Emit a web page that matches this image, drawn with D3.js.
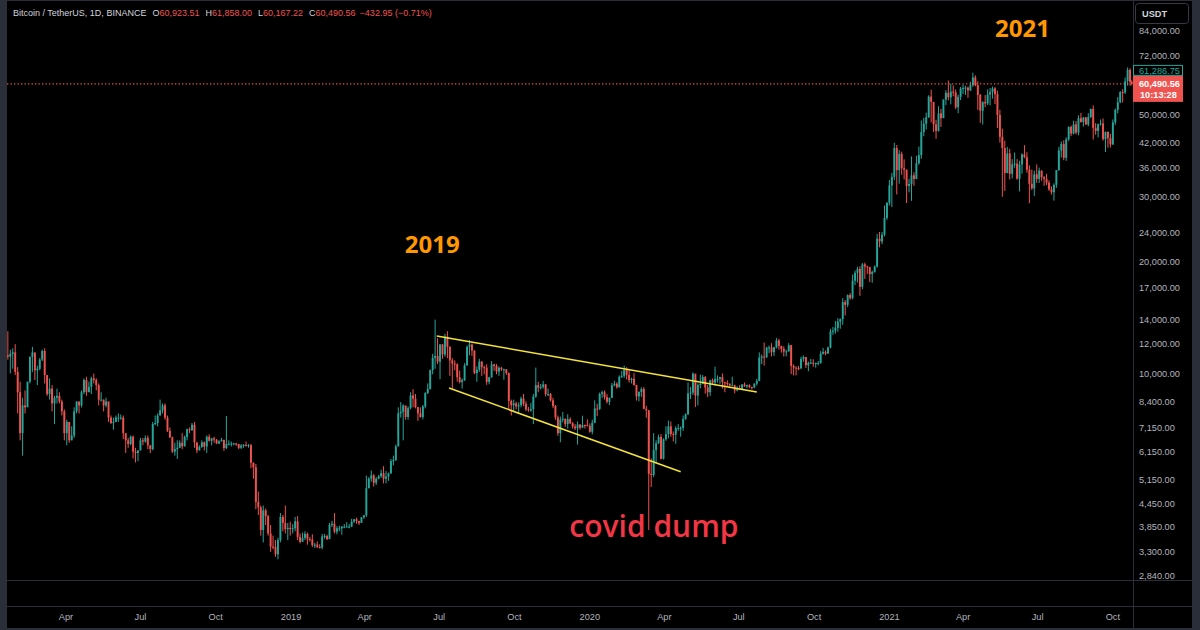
<!DOCTYPE html>
<html>
<head>
<meta charset="utf-8">
<title>Bitcoin / TetherUS 1D</title>
<script src="https://cdn.jsdelivr.net/npm/d3@7"></script>
<style>
  html, body { margin: 0; padding: 0; background: #000; }
  svg { display: block; }
  text { font-family: "Liberation Sans", Arial, sans-serif; }
</style>
</head>
<body>
<svg id="chart"></svg>
<script>
// BTC/USDT, grouped in 3-day candles from 2018-01-19, values in thousands of USDT: [high, low, close]
// open of each candle = close of the one before
const firstDate = '2018-01-19';
const lastDate = '2021-10-24';
const stepDays = 3;
const firstOpen = 11.2;

const bars2018 = [
  [13.0,10.9,11.1],[11.6,10.0,11.3],[11.7,10.3,11.4],[12.0,9.9,10.1],[10.4,7.8,8.9],[9.5,6.6,6.9],[8.6,6.0,8.2],[9.0,7.8,8.1],[9.5,8.3,9.5],[11.1,9.4,11.1],
  [11.8,10.1,11.4],[11.2,9.6,10.2],[10.5,9.3,10.3],[11.0,10.2,10.9],[11.6,10.8,11.5],[11.7,9.4,9.9],[9.9,8.7,8.8],[9.7,8.5,9.1],[9.3,7.9,8.3],[8.7,7.3,8.6],
  [9.1,8.3,8.7],[8.9,8.3,8.4],[8.5,7.7,7.9],[8.0,6.6,6.9],[7.5,6.4,7.4],[7.4,6.5,6.6],[7.2,6.6,6.8],[8.1,6.7,7.9],[8.4,7.8,8.4],[8.4,7.8,8.2],
  [9.0,8.1,8.9],[9.7,8.8,9.6],[9.8,8.7,8.9],[9.5,8.9,9.2],[9.8,8.8,9.7],[9.99,9.4,9.6],[9.7,9.0,9.3],[9.4,8.2,8.5],[8.9,8.4,8.5],[8.5,7.9,8.2],
  [8.6,8.1,8.4],[8.4,7.4,7.6],[7.7,7.3,7.35],[7.6,7.05,7.4],[7.7,7.4,7.6],[7.8,7.4,7.6],[7.75,7.5,7.6],[7.7,6.65,6.9],[6.9,6.1,6.6],[6.7,6.3,6.45],
  [6.8,6.4,6.75],[6.8,5.9,6.15],[6.3,5.75,6.1],[6.2,5.8,6.2],[6.7,6.2,6.6],[6.7,6.4,6.55],[6.8,6.5,6.7],[6.8,6.25,6.4],[6.4,6.1,6.25],[7.4,6.2,7.3],
  [7.7,7.25,7.35],[7.8,7.2,7.7],[8.5,7.7,7.95],[8.3,7.8,8.2],[8.3,7.5,7.6],[7.7,6.95,7.0],[7.15,6.7,6.72],[6.75,6.1,6.15],[6.5,6.0,6.25],[6.6,5.88,6.3],
  [6.6,6.3,6.5],[6.9,6.25,6.36],[6.8,6.35,6.74],[7.1,6.6,7.07],[7.15,6.9,7.03],[7.35,7.0,7.27],[7.4,6.3,6.52],[6.5,6.1,6.2],[6.4,6.2,6.33],[6.6,6.3,6.52],
  [6.55,6.2,6.35],[6.8,6.1,6.75],[6.85,6.55,6.58],[6.7,6.4,6.68],[6.75,6.5,6.63],[6.65,6.45,6.47],[6.6,6.45,6.56],[6.7,6.55,6.62],[6.62,6.18,6.29],[7.68,6.25,6.45],
  [6.6,6.4,6.46],[6.55,6.35,6.47],[6.5,6.4,6.47],[6.5,6.38,6.45],[6.45,6.25,6.3],[6.45,6.25,6.39],[6.45,6.3,6.41],[6.55,6.35,6.4],[6.45,6.3,6.4],[6.45,5.55,5.74],
  [5.75,5.2,5.58],[5.7,4.3,4.5],[4.8,4.15,4.35],[4.4,3.65,3.78],[4.4,3.5,4.27],[4.32,3.9,4.12],[4.15,3.65,3.7],[3.9,3.3,3.41],[3.65,3.35,3.4],[3.55,3.2,3.25],
  [3.6,3.15,3.55],[4.2,3.5,4.1],[4.15,3.75,3.95],[4.4,3.7,3.8],[3.95,3.55,3.83],[3.98,3.65,3.8]
];

const bars2019 = [
  [3.92,3.7,3.82],[4.1,3.75,3.99],[4.12,3.55,3.62],[3.7,3.48,3.51],[3.72,3.53,3.6],[3.75,3.55,3.69],[3.72,3.45,3.57],[3.62,3.52,3.56],[3.68,3.4,3.44],[3.49,3.38,3.45],
  [3.52,3.38,3.4],[3.46,3.37,3.39],[3.69,3.35,3.63],[3.69,3.58,3.64],[3.67,3.55,3.57],[3.95,3.58,3.9],[4.0,3.85,3.93],[4.2,3.7,3.74],[3.87,3.68,3.82],[3.88,3.75,3.82],
  [3.87,3.67,3.86],[3.92,3.82,3.86],[3.97,3.85,3.86],[3.92,3.82,3.86],[4.05,3.85,3.98],[4.05,3.95,4.04],[4.08,3.93,4.0],[4.0,3.9,3.95],[4.1,3.95,4.09],[4.15,4.05,4.14],
  [5.3,4.1,4.9],[5.25,4.9,5.2],[5.47,5.1,5.31],[5.35,4.95,5.07],[5.25,5.0,5.2],[5.32,5.18,5.28],[5.5,5.23,5.38],[5.62,5.05,5.2],[5.45,5.05,5.27],[5.4,5.13,5.37],
  [5.88,5.37,5.8],[6.0,5.65,5.84],[6.43,5.8,6.35],[8.1,6.8,7.81],[8.37,7.6,7.88],[8.26,6.6,8.2],[8.1,7.5,7.63],[8.15,7.5,8.06],[8.9,8.0,8.72],[9.07,8.1,8.55],
  [8.8,8.05,8.11],[8.12,7.45,7.81],[8.1,7.6,7.63],[8.22,7.52,8.15],[8.9,8.05,8.86],[9.4,8.8,9.08],[10.25,9.05,10.21],[11.3,9.95,11.02],[13.97,10.3,11.15],[12.45,10.6,10.76],
  [12.0,9.65,11.98],[12.0,10.95,11.25],[12.8,11.1,12.57],[13.0,11.0,11.8],[11.85,9.85,10.85],[11.0,9.1,10.63],[10.85,10.2,10.59],[10.65,9.5,9.77],[10.18,9.4,9.48],[9.7,9.1,9.59],
  [10.66,9.55,10.52],[11.9,10.5,11.8],[12.3,11.2,11.97],[12.05,11.15,11.53],[11.55,9.95,10.02],[10.45,9.5,10.23],[10.95,10.1,10.76],[10.8,9.85,10.4],[10.5,9.95,10.37],[10.6,9.32,9.49],
  [9.8,9.35,9.76],[10.8,9.75,10.58],[10.62,10.17,10.48],[10.6,9.95,10.12],[10.45,9.85,10.36],[10.42,10.15,10.26],[10.3,9.62,10.27],[10.2,9.9,10.03],[10.07,8.0,8.43],[8.5,7.7,8.21],
  [8.5,7.9,8.3],[8.39,8.0,8.15],[8.35,7.8,8.21],[8.66,8.1,8.56],[8.8,8.16,8.28],[8.41,7.92,8.0],[8.12,7.88,7.95],[8.33,7.88,8.02],[8.8,7.3,8.66],[10.37,8.6,9.3],
  [9.5,8.9,9.15],[9.37,9.05,9.2],[9.55,9.1,9.34],[9.37,8.67,8.8],[9.1,8.68,8.8],[8.86,8.4,8.46],[8.6,8.06,8.17],[8.22,7.5,7.61],[7.7,6.79,6.9],[7.65,6.52,7.51],
  [7.87,7.38,7.55],[7.55,7.18,7.3],[7.76,7.1,7.53],[7.62,7.3,7.34],[7.4,7.1,7.19],[7.3,7.03,7.11],[7.42,6.43,7.28],[7.3,7.05,7.14],[7.69,7.12,7.26],[7.28,7.1,7.25],
  [7.52,7.2,7.22],[7.33,6.92,6.96]
];

const bars2020 = [
  [7.5,6.85,7.36],[8.46,7.34,8.04],[8.28,7.67,8.02],[8.88,7.97,8.81],[8.99,8.6,8.9],[9.0,8.5,8.63],[8.79,8.3,8.39],[8.6,8.22,8.6],[9.43,8.58,9.29],[9.56,9.23,9.38],
  [9.47,9.1,9.18],[9.88,9.16,9.8],[10.16,9.73,9.85],[10.5,9.72,10.23],[10.4,9.63,9.92],[10.25,9.45,9.6],[9.75,9.4,9.67],[10.02,9.27,9.31],[9.32,8.45,8.67],[8.95,8.41,8.91],
  [9.17,8.65,9.08],[9.19,8.0,8.03],[8.18,7.59,7.95],[7.97,3.78,5.36],[5.9,4.94,5.32],[6.9,5.25,6.21],[6.6,5.73,6.48],[6.84,6.45,6.74],[6.86,5.86,5.88],[6.68,5.86,6.64],
  [7.2,6.58,6.86],[7.46,6.68,7.2],[7.42,6.75,6.86],[6.97,6.55,6.84],[7.2,6.46,7.12],[7.3,7.0,7.12],[7.2,6.75,7.13],[7.7,7.0,7.54],[7.8,7.5,7.76],[9.46,7.73,8.83],
  [9.19,8.53,8.88],[10.07,8.75,9.99],[9.91,8.12,8.72],[9.4,8.2,9.31],[9.93,9.12,9.38],[9.9,9.35,9.78],[9.84,8.82,9.17],[9.31,8.63,8.9],[9.62,8.7,9.58],[9.7,9.33,9.45],
  [10.43,9.27,9.67],[9.88,9.45,9.67],[9.8,9.38,9.77],[10.0,9.1,9.47],[9.5,8.9,9.43],[9.58,9.25,9.38],[9.4,9.2,9.29],[9.8,9.25,9.29],[9.33,8.84,9.0],[9.24,8.95,9.14],
  [9.3,9.04,9.06],[9.36,9.05,9.34],[9.45,9.2,9.23],[9.33,9.13,9.3],[9.35,9.13,9.19],[9.22,9.05,9.17],[9.4,9.12,9.39],[9.68,9.28,9.55],[11.4,9.53,11.03],[11.25,10.6,11.11],
  [12.12,10.5,11.07],[11.8,11.0,11.75],[11.9,11.35,11.76],[12.07,11.12,11.41],[11.8,11.15,11.77],[12.47,11.68,12.28],[12.4,11.6,11.87],[11.88,11.38,11.65],[11.83,11.11,11.46],[11.59,11.12,11.47],
  [12.07,11.45,11.92],[11.95,9.96,10.47],[10.58,9.88,10.37],[10.45,9.88,10.34],[10.48,10.2,10.33],[11.1,10.27,10.95],[11.18,10.76,11.08],[11.05,10.35,10.53],[10.76,10.14,10.69],[10.95,10.63,10.69],
  [10.92,10.43,10.62],[10.7,10.37,10.67],[10.8,10.52,10.67],[11.49,10.63,11.3],[11.72,11.25,11.43],[11.55,11.2,11.32],[11.82,11.3,11.75],[13.2,11.69,12.99],[13.35,12.72,13.04],[13.86,12.8,13.28],
  [14.1,12.97,13.8],[14.07,13.2,14.02],[15.97,13.53,15.58],[15.78,14.34,15.33],[16.34,15.1,16.28],[16.48,15.8,15.97],[18.48,15.86,17.8],[18.96,17.33,18.7],[19.42,17.6,19.16],[19.48,16.2,17.14],
  [19.86,16.88,19.7],[19.92,18.0,19.45],[19.53,18.57,19.36],[19.42,17.65,18.55],[18.94,17.57,18.8],[19.57,18.71,19.44],[23.8,19.3,23.11],[24.1,21.9,22.72],[24.1,22.35,23.71],[28.42,23.45,26.28],
  [29.0,25.98,28.89],[33.3,28.4,32.18]
];

const bars2021 = [
  [34.78,28.13,33.95],[41.95,33.3,40.6],[41.38,30.42,35.4],[40.1,32.53,39.16],[39.7,34.4,35.82],[37.85,33.4,35.47],[35.55,28.85,32.08],[33.5,30.83,32.47],[38.53,29.24,34.25],[34.93,32.1,33.51],
  [38.7,33.42,36.94],[40.96,36.6,38.87],[48.2,37.98,44.83],[48.98,43.7,47.23],[50.6,45.57,49.15],[56.37,48.95,55.89],[58.35,47.6,54.09],[52.05,44.9,47.02],[48.4,43.0,45.16],[52.64,45.0,50.35],
  [51.77,46.3,48.87],[54.9,48.93,54.88],[58.15,53.0,57.22],[61.8,54.6,55.63],[60.63,53.27,57.65],[59.93,56.0,57.35],[58.43,51.7,52.3],[56.57,50.43,55.82],[59.37,54.7,58.73],[60.2,56.8,58.99],
  [59.79,56.5,59.12],[59.47,55.47,58.08],[61.3,57.9,59.96],[64.85,59.37,62.96],[63.8,59.58,60.0],[61.5,51.5,56.47],[56.8,47.5,51.19],[54.3,47.0,54.03],[56.43,52.33,53.58],[58.46,53.06,56.63],
  [58.98,52.9,57.5],[59.5,55.2,58.84],[59.3,53.4,56.75],[58.0,46.0,49.88],[51.5,42.0,43.54],[45.8,30.0,40.6],[42.5,31.1,34.77],[40.9,34.68,39.26],[40.4,33.4,34.6],[37.9,33.6,36.69],
  [39.48,35.92,36.85],[37.9,33.33,33.55],[37.53,31.0,36.69],[39.3,34.6,39.02],[41.33,38.12,38.35],[39.56,34.82,35.48],[36.46,28.8,32.51],[35.5,31.3,31.59],[35.3,30.15,34.49],[36.67,32.7,33.51],
  [35.95,32.7,35.29],[35.3,33.1,33.86],[34.1,32.1,33.52],[34.6,32.25,32.73],[33.2,31.1,31.42],[32.0,30.4,30.84],[32.6,29.28,32.29],[35.4,31.7,35.4],[40.9,35.25,40.01],[42.3,38.3,41.62],
  [42.6,37.64,38.21],[43.4,37.5,42.84],[46.45,42.45,46.29],[46.7,43.77,44.43],[48.14,44.2,47.02],[48.05,44.2,44.71],[49.78,43.95,48.87],[50.5,47.6,47.7],[49.28,46.4,49.07],[49.3,46.9,46.99],
  [50.4,46.5,49.25],[51.9,48.9,51.76],[52.92,42.8,46.05],[47.4,44.1,45.15],[47.25,43.37,47.11],[48.48,46.7,47.3],[48.8,42.5,42.93],[45.0,39.6,44.89],[45.0,40.7,43.17],[44.35,40.75,41.52],
  [48.5,41.4,47.63],[51.89,46.9,51.47],[55.75,50.38,53.95],[57.84,53.65,57.49],[58.53,53.88,57.35],[62.93,56.85,61.53],[67.0,59.85,66.0],[66.64,59.7,61.29],[61.86,60.17,60.49]
];

// right price axis
const yTicks = [84000, 72000, 50000, 42000, 36000, 30000, 24000, 20000, 17000, 14000, 12000, 10000, 8400, 7150, 6150, 5150, 4450, 3850, 3300, 2840];

// time axis
const xTicks = ['2018-04-01','2018-07-01','2018-10-01','2019-01-01','2019-04-01','2019-07-01','2019-10-01','2020-01-01',
                '2020-04-01','2020-07-01','2020-10-01','2021-01-01','2021-04-01','2021-07-01','2021-10-01'];
const xTickLabels = ['Apr','Jul','Oct','2019','Apr','Jul','Oct','2020','Apr','Jul','Oct','2021','Apr','Jul','Oct'];

// header
const symbolTitle = 'Bitcoin / TetherUS, 1D, BINANCE';
const lastOHLC = { O: '60,923.51', H: '61,858.00', L: '60,167.22', C: '60,490.56' };
const lastChange = '\u2212432.95 (\u22120.71%)';
const lastPrice = 60490.56;
const prevPrice = 61286.75;
const countdown = '10:13:28';

// drawings: [date, price]
const wedgeLines = [
  [['2019-06-28', 12620], ['2020-07-23', 8910]],
  [['2019-07-13', 9135], ['2020-04-21', 5430]]
];
const notes = [
  { kind: 'year', text: '2019', at: ['2019-05-20', 21140] },
  { kind: 'year', text: '2021', at: ['2021-05-10', 80940] },
  { kind: 'event', text: 'covid dump', at: ['2019-12-07', 3618] }
];

const W = 1200, H = 630;
const pane = { left: 7, right: 1133, top: 1, bottom: 580 };
const upColor = '#26a69a', downColor = '#ef5350';
const axisText = '#b2b5be', lineColor = '#2a2e39';

const parse = d3.utcParse('%Y-%m-%d');

const x = d3.scaleUtc()
  .domain([parse('2018-01-01'), parse('2021-01-01')])
  .range([-7.7, 889.4]);

const y = d3.scaleLog()
  .domain([2770, 101900])
  .range([pane.bottom, 0]);

// build candles
const allBars = bars2018.concat(bars2019, bars2020, bars2021);
const day0 = parse(firstDate), dayLast = parse(lastDate);
const candles = allBars.map((b, i) => {
  const start = d3.utcDay.offset(day0, i * stepDays);
  let mid = d3.utcDay.offset(start, 1);
  if (mid > dayLast) mid = dayLast;
  return {
    date: mid,
    open: (i === 0 ? firstOpen : allBars[i - 1][2]) * 1000,
    high: b[0] * 1000,
    low: b[1] * 1000,
    close: b[2] * 1000
  };
});

const svg = d3.select('#chart').attr('width', W).attr('height', H);

// frame
svg.append('rect').attr('width', W).attr('height', H).attr('fill', lineColor);
svg.append('rect').attr('x', 7).attr('y', 1).attr('width', 1185).attr('height', 627).attr('fill', '#000');

svg.append('clipPath').attr('id', 'pane-clip')
  .append('rect')
  .attr('x', pane.left).attr('y', pane.top)
  .attr('width', pane.right - pane.left).attr('height', pane.bottom - pane.top);

// pane separators
const seps = svg.append('g').attr('stroke', lineColor).attr('stroke-width', 1);
seps.append('line').attr('x1', 7).attr('x2', 1192).attr('y1', 580.5).attr('y2', 580.5);
seps.append('line').attr('x1', 7).attr('x2', 1192).attr('y1', 606.5).attr('y2', 606.5);
seps.append('line').attr('x1', 1133.5).attr('x2', 1133.5).attr('y1', 1).attr('y2', 628);

const plot = svg.append('g').attr('clip-path', 'url(#pane-clip)');

// candles
const step = x(d3.utcDay.offset(day0, stepDays)) - x(day0);
const bodyW = step * 0.78;

const candleG = plot.append('g')
  .selectAll('g')
  .data(candles)
  .join('g')
  .attr('fill', d => d.close >= d.open ? upColor : downColor)
  .attr('stroke', d => d.close >= d.open ? upColor : downColor);

candleG.append('line')
  .attr('x1', d => x(d.date)).attr('x2', d => x(d.date))
  .attr('y1', d => y(d.high)).attr('y2', d => y(d.low))
  .attr('stroke-width', 1);

candleG.append('rect')
  .attr('stroke', 'none')
  .attr('x', d => x(d.date) - bodyW / 2)
  .attr('width', bodyW)
  .attr('y', d => y(Math.max(d.open, d.close)))
  .attr('height', d => Math.max(1, Math.abs(y(d.open) - y(d.close))));

// last price line
plot.append('line')
  .attr('x1', pane.left).attr('x2', pane.right)
  .attr('y1', y(lastPrice)).attr('y2', y(lastPrice))
  .attr('stroke', '#ef5350').attr('stroke-width', 1.3)
  .attr('stroke-dasharray', '1.3,2.2');

// wedge drawings
plot.append('g')
  .selectAll('line')
  .data(wedgeLines)
  .join('line')
  .attr('x1', d => x(parse(d[0][0]))).attr('y1', d => y(d[0][1]))
  .attr('x2', d => x(parse(d[1][0]))).attr('y2', d => y(d[1][1]))
  .attr('stroke', '#f4e23b').attr('stroke-width', 1.5);

// text notes
const noteStyle = {
  year: { fill: '#ff9800', size: 24, weight: 700, family: '"Open Sans", sans-serif' },
  event: { fill: '#f23645', size: 30, weight: 600, family: '"Open Sans", sans-serif' }
};
svg.append('g')
  .selectAll('text')
  .data(notes)
  .join('text')
  .attr('x', d => x(parse(d.at[0])))
  .attr('y', d => y(d.at[1]))
  .attr('fill', d => noteStyle[d.kind].fill)
  .style('font-family', d => noteStyle[d.kind].family)
  .style('font-size', d => noteStyle[d.kind].size + 'px')
  .style('font-weight', d => noteStyle[d.kind].weight)
  .text(d => d.text);

// price axis labels
svg.append('g')
  .selectAll('text')
  .data(yTicks)
  .join('text')
  .attr('x', 1139)
  .attr('y', d => y(d))
  .attr('dy', '0.35em')
  .attr('fill', axisText)
  .style('font-size', '9.2px')
  .text(d => d3.format(',.2f')(d));

// time axis labels
svg.append('g')
  .selectAll('text')
  .data(xTicks)
  .join('text')
  .attr('x', d => x(parse(d)))
  .attr('y', 617)
  .attr('dy', '0.35em')
  .attr('text-anchor', 'middle')
  .attr('fill', axisText)
  .style('font-size', '9.2px')
  .text((d, i) => xTickLabels[i]);

// currency box
svg.append('rect')
  .attr('x', 1135.5).attr('y', 3.5).attr('width', 53).attr('height', 20).attr('rx', 3)
  .attr('fill', '#000').attr('stroke', '#363a45');
svg.append('text')
  .attr('x', 1142).attr('y', 13.5).attr('dy', '0.35em')
  .attr('fill', '#d1d4dc')
  .style('font-size', '9.2px').style('font-weight', 700)
  .text('USDT');

// last price label with countdown, previous price label on top of it
const lastY = y(lastPrice);
svg.append('rect')
  .attr('x', 1133).attr('y', lastY - 8).attr('width', 50).attr('height', 26)
  .attr('fill', '#ef5350');
svg.append('text')
  .attr('x', 1139).attr('y', lastY).attr('dy', '0.35em')
  .attr('fill', '#fff').style('font-size', '9.2px').style('font-weight', 700)
  .text(d3.format(',.2f')(lastPrice));
svg.append('text')
  .attr('x', 1140).attr('y', lastY + 11).attr('dy', '0.35em')
  .attr('fill', '#fff').style('font-size', '9.2px').style('font-weight', 700)
  .text(countdown);

svg.append('rect')
  .attr('x', 1133.5).attr('y', lastY - 18.5).attr('width', 49).attr('height', 10)
  .attr('fill', '#000').attr('stroke', upColor);
svg.append('text')
  .attr('x', 1139).attr('y', lastY - 13.3).attr('dy', '0.35em')
  .attr('fill', upColor).style('font-size', '9.2px')
  .text(d3.format(',.2f')(prevPrice));

// header legend
const header = svg.append('text')
  .attr('x', 13).attr('y', 16)
  .attr('fill', '#d1d4dc')
  .style('font-size', '9px');
header.append('tspan').text(symbolTitle);
Object.keys(lastOHLC).forEach(k => {
  header.append('tspan').attr('dx', 6).text(k);
  header.append('tspan').attr('fill', downColor).text(lastOHLC[k]);
});
header.append('tspan').attr('dx', 4).attr('fill', downColor).text(lastChange);
</script>
</body>
</html>
